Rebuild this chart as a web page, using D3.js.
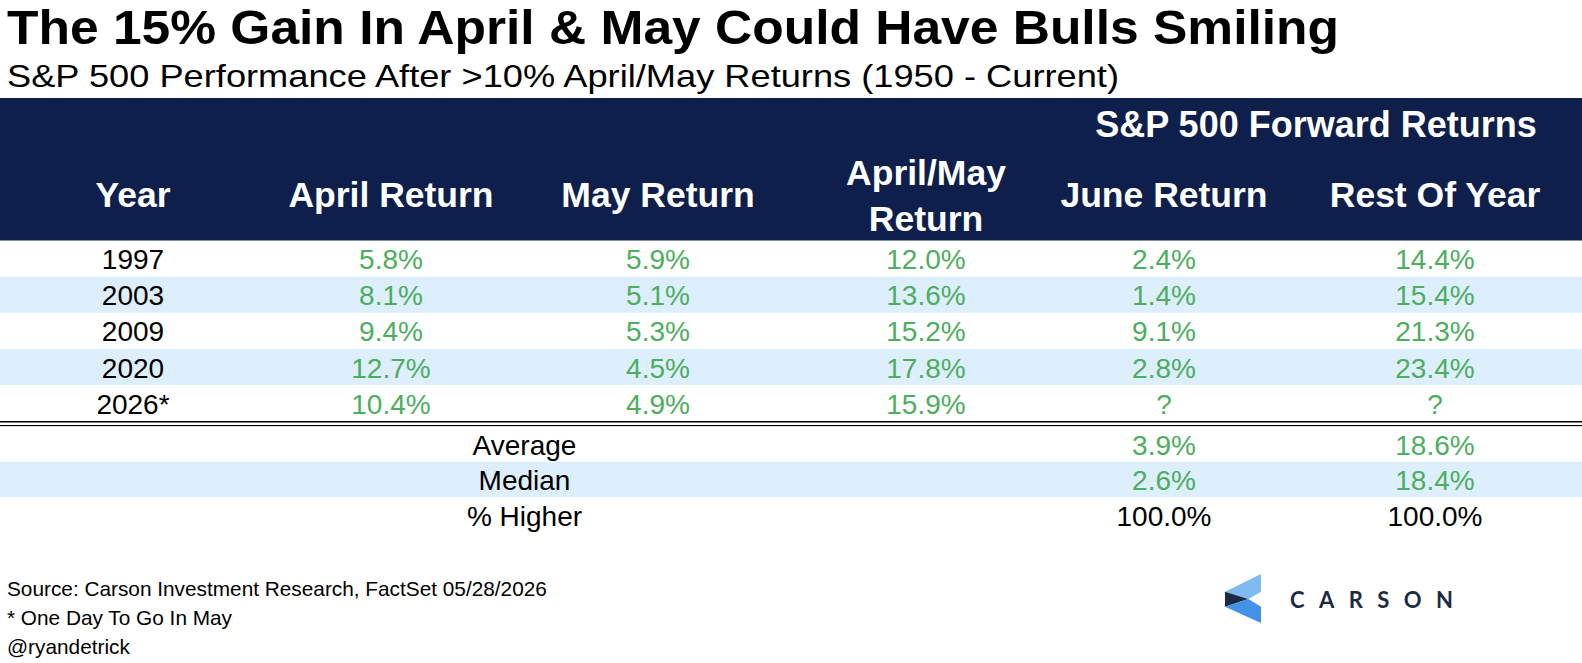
<!DOCTYPE html>
<html>
<head>
<meta charset="utf-8">
<script src="https://cdn.jsdelivr.net/npm/d3@7"></script>
<style>
  body { margin: 0; background: #fff; }
  svg { display: block; font-family: "Liberation Sans", Arial, Helvetica, sans-serif; }
</style>
</head>
<body>
<div id="chart"></div>
<script>
// table data
const title = 'The 15% Gain In April & May Could Have Bulls Smiling';
const subtitle = 'S&P 500 Performance After >10% April/May Returns (1950 - Current)';
const groupLabel = 'S&P 500 Forward Returns';
const columnKeys = ['year', 'april', 'may', 'aprilMay', 'june', 'rest'];
const columnLabels = ['Year', 'April Return', 'May Return', 'April/May\nReturn', 'June Return', 'Rest Of Year'];

const years = ['1997', '2003', '2009', '2020', '2026*'];
const aprilReturns = [5.8, 8.1, 9.4, 12.7, 10.4];
const mayReturns = [5.9, 5.1, 5.3, 4.5, 4.9];
const aprilMayReturns = [12.0, 13.6, 15.2, 17.8, 15.9];
const juneReturns = [2.4, 1.4, 9.1, 2.8, null];
const restOfYearReturns = [14.4, 15.4, 21.3, 23.4, null];

const summaryLabels = ['Average', 'Median', '% Higher'];
const summaryJune = [3.9, 2.6, 100.0];
const summaryRest = [18.6, 18.4, 100.0];

const footnotes = [
    'Source: Carson Investment Research, FactSet 05/28/2026',
    '* One Day To Go In May',
    '@ryandetrick'
];

// layout
const width = 1582, height = 663;
const navy = '#0e1f4b', stripe = '#ddeffc', green = '#4cae5e', ink = '#000';
const headerTop = 98, headerBottom = 240.7;
const bodyBottom = 421.2, summaryTop = 426.3, summaryBottom = 533;

const svg = d3.select('#chart').append('svg')
    .attr('width', width)
    .attr('height', height);

const colX = d3.scaleOrdinal()
    .domain(columnKeys)
    .range([133, 391, 658, 926, 1164, 1435]);

const rowY = d3.scaleBand()
    .domain(years)
    .range([headerBottom, bodyBottom]);

const summaryY = d3.scaleBand()
    .domain(summaryLabels)
    .range([summaryTop, summaryBottom]);

const fmt = v => v == null ? '?' : d3.format('.1f')(v) + '%';

// titles
svg.append('text')
    .attr('x', 7).attr('y', 43.5)
    .attr('font-size', 48).attr('font-weight', 'bold')
    .attr('textLength', 1332).attr('lengthAdjust', 'spacingAndGlyphs')
    .text(title);

svg.append('text')
    .attr('x', 7).attr('y', 87.3)
    .attr('font-size', 32)
    .attr('textLength', 1112).attr('lengthAdjust', 'spacingAndGlyphs')
    .text(subtitle);

// header band
svg.append('rect')
    .attr('x', 0).attr('y', headerTop)
    .attr('width', width).attr('height', headerBottom - headerTop)
    .attr('fill', navy);

svg.append('text')
    .attr('x', 1316).attr('y', 137)
    .attr('text-anchor', 'middle')
    .attr('font-size', 36).attr('font-weight', 'bold')
    .attr('fill', '#fff')
    .text(groupLabel);

columnKeys.forEach((key, i) => {
    const lines = columnLabels[i].split('\n');
    const baselines = lines.length > 1 ? [185, 230.7] : [206.5];
    lines.forEach((line, j) => {
        svg.append('text')
            .attr('x', colX(key)).attr('y', baselines[j])
            .attr('text-anchor', 'middle')
            .attr('font-size', 35.5).attr('font-weight', 'bold')
            .attr('fill', '#fff')
            .text(line);
    });
});

// body rows
const rows = years.map((y, i) => ({
    year: y,
    april: aprilReturns[i],
    may: mayReturns[i],
    aprilMay: aprilMayReturns[i],
    june: juneReturns[i],
    rest: restOfYearReturns[i]
}));

svg.selectAll('.row-bg')
    .data(rows)
    .join('rect')
    .attr('class', 'row-bg')
    .attr('x', 0).attr('width', width)
    .attr('y', d => rowY(d.year))
    .attr('height', rowY.bandwidth())
    .attr('fill', (d, i) => i % 2 ? stripe : '#fff');

rows.forEach(row => {
    columnKeys.forEach(key => {
        svg.append('text')
            .attr('x', colX(key))
            .attr('y', rowY(row.year) + rowY.bandwidth() / 2 + 10.5)
            .attr('text-anchor', 'middle')
            .attr('font-size', 28)
            .attr('fill', key === 'year' ? ink : green)
            .text(key === 'year' ? row.year : fmt(row[key]));
    });
});

// double rule
[421.8, 425.8].forEach(y => {
    svg.append('line')
        .attr('x1', 0).attr('x2', width)
        .attr('y1', y).attr('y2', y)
        .attr('stroke', ink).attr('stroke-width', 1.6);
});

// summary rows
svg.selectAll('.sum-bg')
    .data(summaryLabels)
    .join('rect')
    .attr('class', 'sum-bg')
    .attr('x', 0).attr('width', width)
    .attr('y', d => summaryY(d))
    .attr('height', summaryY.bandwidth())
    .attr('fill', (d, i) => i % 2 ? stripe : '#fff');

const labelX = (colX('april') + colX('may')) / 2;
summaryLabels.forEach((label, i) => {
    const y = summaryY(label) + summaryY.bandwidth() / 2 + 10.5;
    const valueColor = label === '% Higher' ? ink : green;
    svg.append('text')
        .attr('x', labelX).attr('y', y)
        .attr('text-anchor', 'middle').attr('font-size', 28)
        .attr('fill', ink)
        .text(label);
    svg.append('text')
        .attr('x', colX('june')).attr('y', y)
        .attr('text-anchor', 'middle').attr('font-size', 28)
        .attr('fill', valueColor)
        .text(fmt(summaryJune[i]));
    svg.append('text')
        .attr('x', colX('rest')).attr('y', y)
        .attr('text-anchor', 'middle').attr('font-size', 28)
        .attr('fill', valueColor)
        .text(fmt(summaryRest[i]));
});

// footnotes
footnotes.forEach((note, i) => {
    svg.append('text')
        .attr('x', 7).attr('y', 595.5 + i * 29)
        .attr('font-size', 20.8)
        .attr('fill', ink)
        .text(note);
});

// carson logo
const logo = svg.append('g').attr('transform', 'translate(1225,574)');
logo.append('path').attr('d', 'M36,0 L36,17.7 L23.3,25 L0,17.7 Z').attr('fill', '#7fbbf1');
logo.append('path').attr('d', 'M0,17.7 L23.3,25 L0,32.7 Z').attr('fill', '#1b2a45');
logo.append('path').attr('d', 'M0,32.7 L23.3,25 L36,32.7 L36,49 Z').attr('fill', '#4192e8');
svg.append('text')
    .attr('x', 1290).attr('y', 608)
    .attr('font-family', 'Lato, Inter, "Open Sans", sans-serif')
    .attr('font-size', 22).attr('font-weight', 700)
    .attr('fill', '#1c2b45')
    .attr('textLength', 163).attr('lengthAdjust', 'spacing')
    .text('CARSON');
</script>
</body>
</html>
